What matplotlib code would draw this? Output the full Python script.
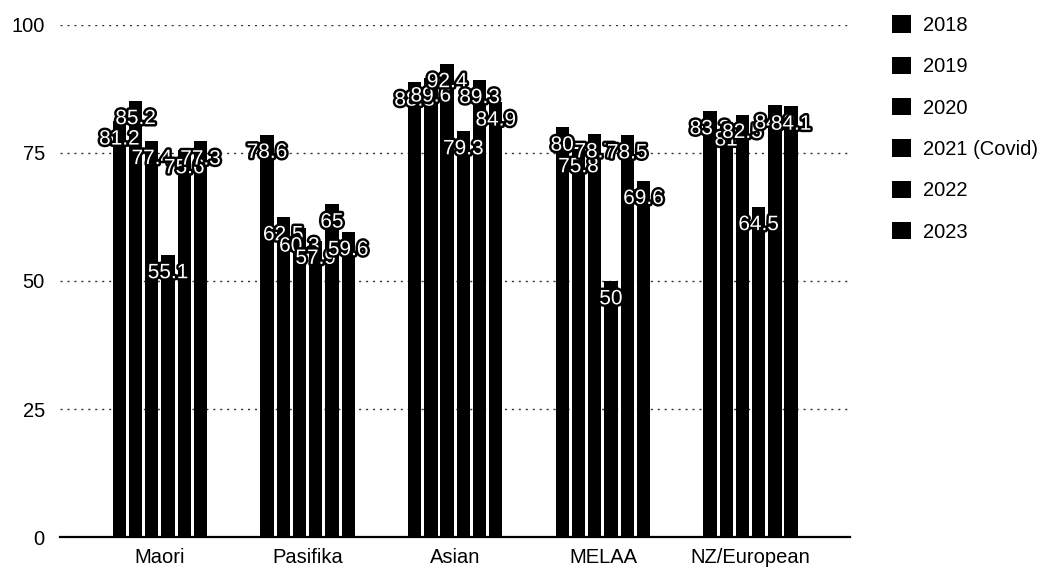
import numpy as np
import matplotlib.pyplot as plt
import matplotlib.patheffects as pe

plt.rcParams['font.family'] = ['Liberation Sans', 'DejaVu Sans']

groups = ['Maori', 'Pasifika', 'Asian', 'MELAA', 'NZ/European']
years = ['2018', '2019', '2020', '2021 (Covid)', '2022', '2023']

# attendance (%) per group, one list per year
v2018 = [81.2, 78.6, 88.8, 80.0, 83.2]
v2019 = [85.2, 62.5, 89.6, 75.8, 81.0]
v2020 = [77.4, 60.3, 92.4, 78.7, 82.5]
v2021 = [55.1, 57.9, 79.3, 50.0, 64.5]
v2022 = [75.6, 65.0, 89.3, 78.5, 84.3]
v2023 = [77.3, 59.6, 84.9, 69.6, 84.1]
series = [v2018, v2019, v2020, v2021, v2022, v2023]

fig = plt.figure(figsize=(10.55, 5.77), dpi=100)
ax = fig.add_axes([0.057, 0.0693, 0.749, 0.8874])

x = np.arange(len(groups))
step = 0.11
width = 0.09
outline = [pe.withStroke(linewidth=3.5, foreground='black')]

for i, (yr, vals) in enumerate(zip(years, series)):
    pos = x + (i - 2.5) * step
    bars = ax.bar(pos, vals, width=width, color='black', label=yr, zorder=2)
    for b, v in zip(bars, vals):
        ax.annotate(f'{v:g}', (b.get_x() + b.get_width() / 2, v),
                    xytext=(0, -6), textcoords='offset points',
                    ha='center', va='top', fontsize=15, color='white',
                    path_effects=outline, zorder=3)

ax.set_ylim(0, 100)
ax.set_xlim(-0.676, 4.676)
ax.set_yticks([0, 25, 50, 75, 100])
ax.set_xticks(x)
ax.set_xticklabels(groups)
ax.tick_params(axis='both', length=0, labelsize=14.5)
ax.tick_params(axis='y', pad=11)
ax.tick_params(axis='x', pad=8)

for yv in [25, 50, 75, 100]:
    ax.axhline(yv, color='#333333', lw=1, dashes=(1.5, 3.5), zorder=1)

for side in ['top', 'right', 'left']:
    ax.spines[side].set_visible(False)
ax.spines['bottom'].set_linewidth(1.6)
ax.spines['bottom'].set_color('black')

fig.legend(loc='upper left', bbox_to_anchor=(0.832, 0.998), frameon=False,
           fontsize=14.5, handlelength=0.95, handleheight=0.95,
           handletextpad=0.6, labelspacing=1.08, borderaxespad=0.3)

fig.savefig('out.png', dpi=100)
